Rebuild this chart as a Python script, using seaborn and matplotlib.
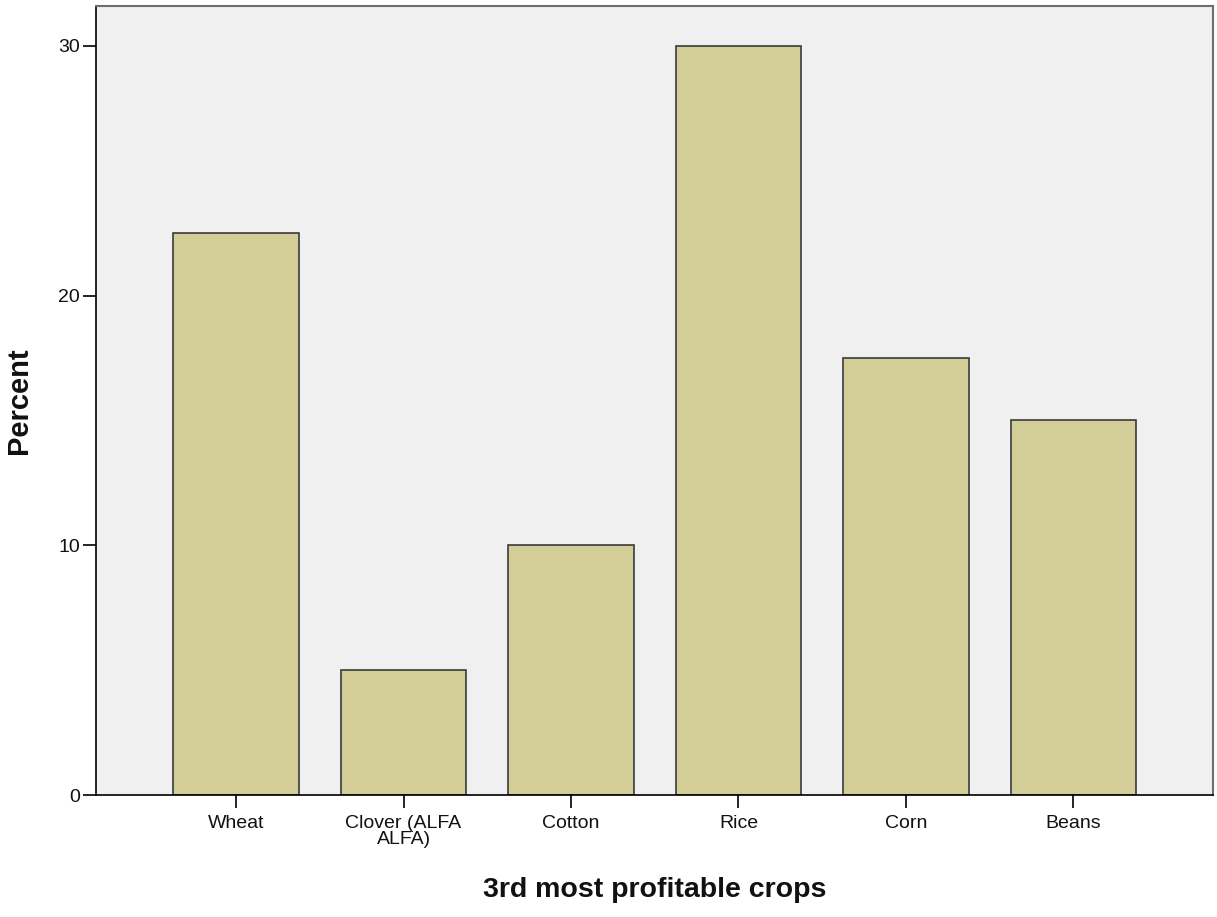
import matplotlib
matplotlib.use("Agg")
import matplotlib.pyplot as plt
import seaborn as sns
import pandas as pd

# -----------------------------
# Data
# -----------------------------
crops = ["Wheat", "Clover (ALFA\nALFA)", "Cotton", "Rice", "Corn", "Beans"]
percent = [22.5, 5.0, 10.0, 30.0, 17.5, 15.0]
y_ticks = [0, 10, 20, 30]

df = pd.DataFrame({"crop": crops, "percent": percent})

sns.set_theme(style="white")
plt.rcParams["font.family"] = ["Liberation Sans", "DejaVu Sans"]

fig = plt.figure(figsize=(12.17, 9.17), dpi=100)
ax = fig.add_axes([0.0789, 0.133, 0.9178, 0.8605])
ax.set_facecolor("#F0F0F0")

sns.barplot(data=df, x="crop", y="percent", color="#D3CE97", saturation=1,
            width=0.75, edgecolor="#3A3A3A", linewidth=1.2, ax=ax)

ax.set_xlim(-0.836, 5.833)
ax.set_ylim(0, 31.6)
ax.set_yticks(y_ticks)

for side in ["left", "bottom"]:
    ax.spines[side].set_color("black")
    ax.spines[side].set_linewidth(1.2)
for side in ["top", "right"]:
    ax.spines[side].set_color("#6E6E6E")
    ax.spines[side].set_linewidth(1.5)

# ticks: outward, on left and bottom only
ax.tick_params(axis="both", bottom=True, left=True, direction="out",
               length=9.5, width=1.2, color="black",
               labelsize=14, labelcolor="#111111")
ax.tick_params(axis="x", pad=5)
ax.tick_params(axis="y", pad=2)
for lbl in ax.get_xticklabels():
    lbl.set_linespacing(0.9)

ax.set_xlabel("3rd most profitable crops", fontsize=20.5, fontweight="bold",
              color="#111111")
ax.set_ylabel("Percent", fontsize=21, fontweight="bold", color="#111111")
ax.xaxis.set_label_coords(0.5, -0.104)
ax.yaxis.set_label_coords(-0.0564, 0.5)

fig.savefig("out.png", dpi=100)
plt.close()
